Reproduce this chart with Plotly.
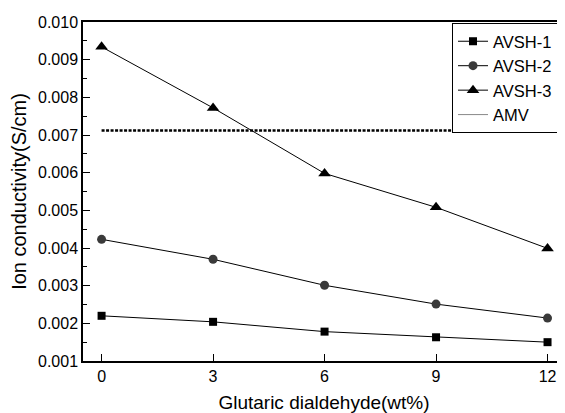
import plotly.graph_objects as go

x_wt = [0, 3, 6, 9, 12]
avsh1 = [0.00220, 0.00204, 0.00178, 0.00163, 0.00150]
avsh2 = [0.00423, 0.00370, 0.00301, 0.00251, 0.00214]
avsh3 = [0.00934, 0.00772, 0.00598, 0.00508, 0.00399]
amv_x = [0, 12]
amv = [0.00712, 0.00712]

FONT = "Arial, Liberation Sans, sans-serif"

fig = go.Figure()
fig.add_trace(go.Scatter(x=x_wt, y=avsh1, name="AVSH-1", mode="lines+markers",
                         line=dict(color="black", width=1),
                         marker=dict(symbol="square", size=8, color="black")))
fig.add_trace(go.Scatter(x=x_wt, y=avsh2, name="AVSH-2", mode="lines+markers",
                         line=dict(color="black", width=1),
                         marker=dict(symbol="circle", size=9, color="#3a3a3a")))
fig.add_trace(go.Scatter(x=x_wt, y=avsh3, name="AVSH-3", mode="lines+markers",
                         line=dict(color="black", width=1),
                         marker=dict(symbol="triangle-up", size=11, color="black")))
fig.add_trace(go.Scatter(x=amv_x, y=amv, name="AMV", mode="lines", showlegend=False,
                         line=dict(color="black", width=2.5, dash="3px,1.5px")))
fig.add_trace(go.Scatter(x=[None], y=[None], name="AMV", mode="lines",
                         line=dict(color="#888888", width=1)))

# page body has an 8px margin, so the figure is drawn 8px right/down
fig.update_layout(
    width=557, height=405,
    margin=dict(l=75, r=0, t=14, b=52, autoexpand=False),
    paper_bgcolor="white", plot_bgcolor="white",
    font=dict(family=FONT, color="black", size=16),
    showlegend=True,
    legend=dict(x=0.9855, y=0.997, xanchor="right", yanchor="top",
                bordercolor="black", borderwidth=1, bgcolor="white",
                font=dict(size=16.5, family=FONT), tracegroupgap=0),
    xaxis=dict(range=[-0.5, 12.47], tickvals=x_wt, ticktext=[str(v) for v in x_wt],
               ticks="inside", ticklen=7, tickcolor="black",
               showline=True, linecolor="black", linewidth=1.5, mirror=True,
               showgrid=False, zeroline=False, automargin=False,
               title=dict(text="Glutaric dialdehyde(wt%)", font=dict(size=19), standoff=14),
               tickfont=dict(size=16)),
    yaxis=dict(range=[0.001, 0.010], dtick=0.001, tick0=0.001, tickformat=".3f",
               ticks="inside", ticklen=7, tickcolor="black",
               minor=dict(ticks="inside", ticklen=4, dtick=0.0005, tickcolor="black"),
               showline=True, linecolor="black", linewidth=1.5,
               showgrid=False, zeroline=False, automargin=False,
               title=dict(text="Ion conductivity(S/cm)", font=dict(size=20), standoff=6),
               tickfont=dict(size=16)),
)

fig.write_html("out.html")
